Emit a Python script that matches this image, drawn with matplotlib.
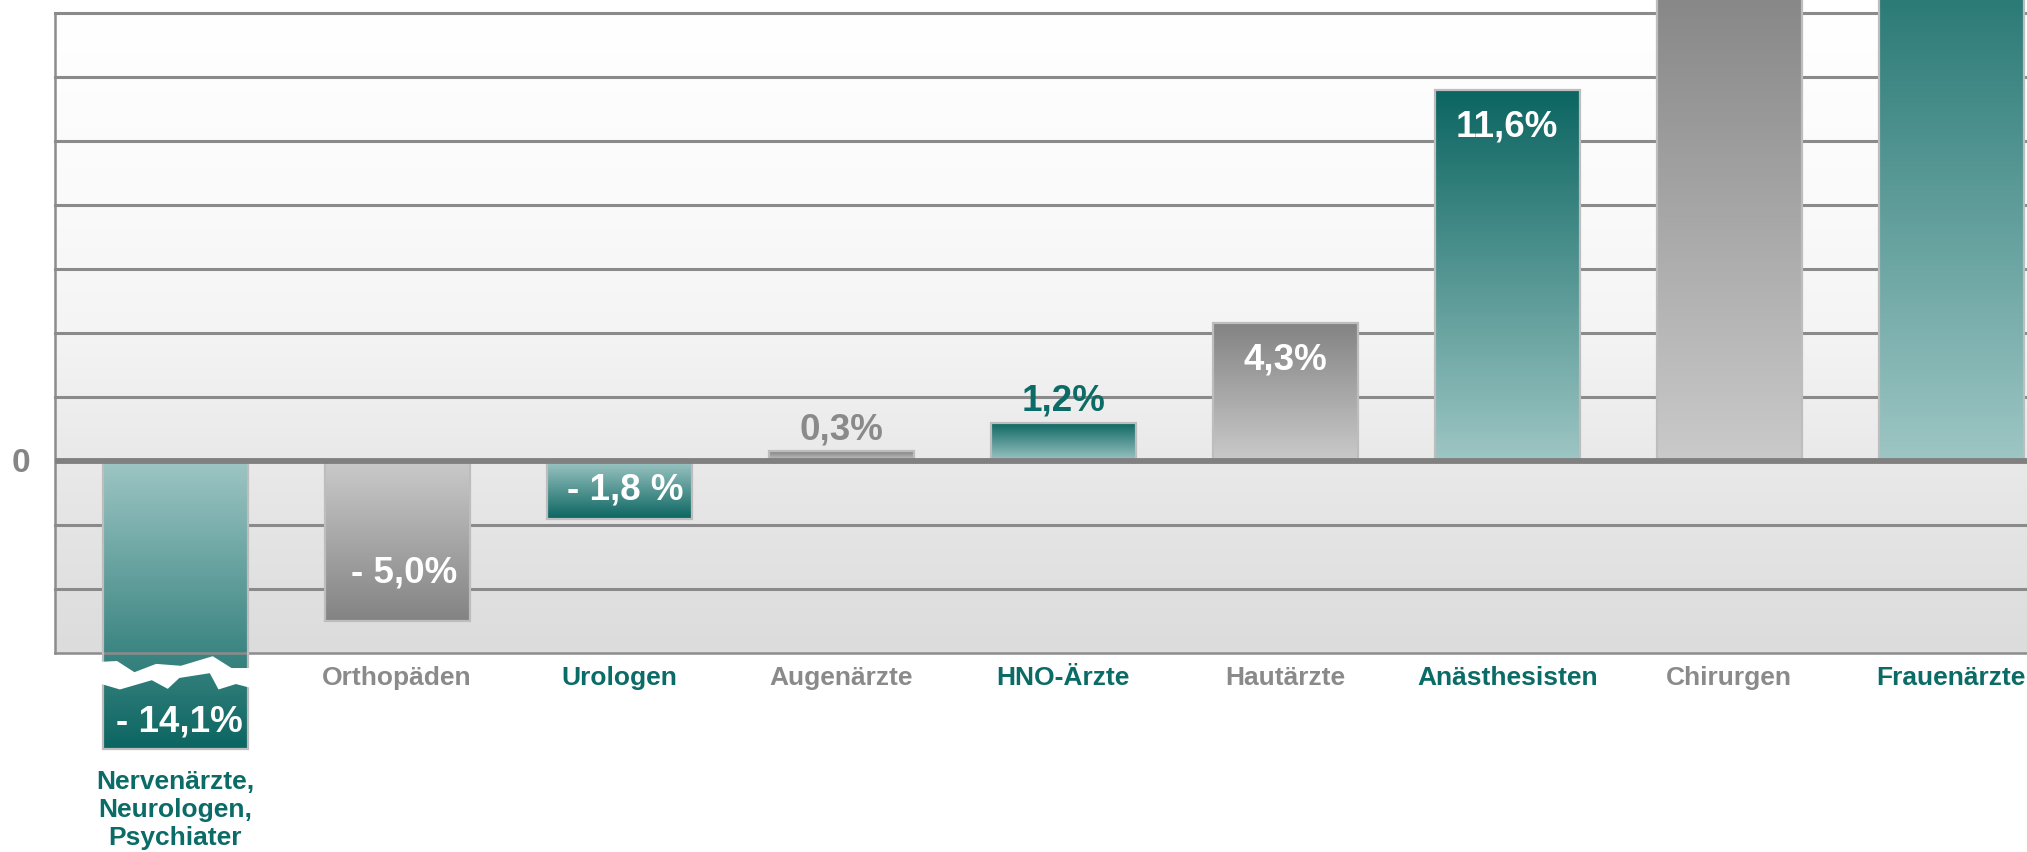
import numpy as np
import matplotlib.pyplot as plt
from matplotlib.colors import LinearSegmentedColormap
from matplotlib.patches import Rectangle, Polygon

plt.rcParams["font.family"] = ["Liberation Sans", "DejaVu Sans"]

# change in percent per specialty
categories = ["Nervenärzte,\nNeurologen,\nPsychiater", "Orthopäden", "Urologen",
              "Augenärzte", "HNO-Ärzte", "Hautärzte", "Anästhesisten",
              "Chirurgen", "Frauenärzte"]
values = [-14.1, -5.0, -1.8, 0.3, 1.2, 4.3, 11.6, 15.5, 18.6]  # last two run off the top
value_labels = ["- 14,1%", "- 5,0%", "- 1,8 %", "0,3%", "1,2%", "4,3%", "11,6%", "", ""]

TEAL_DARK, TEAL_LIGHT, TEAL_TEXT = "#0b6561", "#9dc6c4", "#0b6b66"
GRAY_DARK, GRAY_LIGHT, GRAY_TEXT = "#838383", "#cacaca", "#8a8a8a"
teal_cmap = LinearSegmentedColormap.from_list("teal", [TEAL_LIGHT, TEAL_DARK])
gray_cmap = LinearSegmentedColormap.from_list("gray", [GRAY_LIGHT, GRAY_DARK])

BAR_WIDTH = 0.653
BREAK_DEPTH = -9.0  # the -14,1 bar is drawn cut off at this depth
# jagged break of the cut bar: (fraction of bar width, y)
break_top = [(-0.03, -6.28), (0.1, -6.25), (0.22, -6.6), (0.37, -6.34), (0.54, -6.4),
             (0.76, -6.1), (0.89, -6.47), (1.03, -6.47)]
break_bottom = [(1.03, -7.1), (0.92, -6.97), (0.8, -7.14), (0.74, -6.63), (0.53, -6.78),
                (0.45, -7.12), (0.34, -6.85), (0.12, -7.14), (-0.03, -6.94)]

fig = plt.figure(figsize=(20.27, 8.52), dpi=100)
ax = fig.add_axes([55 / 2027, (852 - 653) / 852, (2140 - 55) / 2027, 640 / 852])
xmin, xmax, ymin, ymax = -0.5405, 8.85, -6, 14

# background gradient, white at top to light gray at bottom
ys = np.linspace(ymin, ymax, 300)
shade = np.interp(ys, [-6, 0, 4, 8, 14], [220, 233, 244, 250, 255]) / 255
bg = np.repeat(shade.reshape(-1, 1, 1), 3, axis=2).repeat(2, axis=1)
ax.imshow(bg, extent=[xmin, xmax, ymin, ymax], origin="lower", aspect="auto", zorder=0)

for y in range(-4, 15, 2):
    if y != 0:
        ax.axhline(y, color="#8a8a8a", lw=2.2, zorder=1, clip_on=False)

grad = np.linspace(0, 1, 256).reshape(-1, 1)
for i, (v, lab) in enumerate(zip(values, value_labels)):
    teal = i % 2 == 0
    cmap = teal_cmap if teal else gray_cmap
    shown = max(v, BREAK_DEPTH)
    x0 = i - BAR_WIDTH / 2
    if shown >= 0:
        img, lo, hi = grad, 0, shown
    else:
        img, lo, hi = grad[::-1], shown, 0
    im = ax.imshow(img, cmap=cmap, vmin=0, vmax=1, extent=[x0, x0 + BAR_WIDTH, lo, hi],
                   origin="lower", aspect="auto", zorder=2)
    im.set_clip_on(False)
    ax.add_patch(Rectangle((x0, lo), BAR_WIDTH, hi - lo, fill=False, ec="#bdbdbd",
                           lw=1.6, zorder=3, clip_on=False))

    if v < BREAK_DEPTH:
        pts = [(x0 + f * BAR_WIDTH, y) for f, y in break_top + break_bottom]
        ax.add_patch(Polygon(pts, closed=True, fc="white", ec="none", zorder=4, clip_on=False))
        ax.text(i + 0.02, (break_bottom[0][1] + BREAK_DEPTH) / 2 - 0.12, lab, color="white",
                fontsize=26.5, fontweight="bold", ha="center", va="center", zorder=6,
                clip_on=False)
        ax.text(i, -10.9, categories[i], color=TEAL_TEXT, fontsize=19, fontweight="bold",
                ha="center", va="center", linespacing=1.22, clip_on=False)
        continue

    if not lab:
        pass
    elif v < 0:
        ax.text(i + 0.03, min(v / 2, v + 1.5), lab, color="white", fontsize=26.5,
                fontweight="bold", ha="center", va="center", zorder=6)
    elif v < 2:
        ax.text(i, v + 0.37, lab, color=TEAL_TEXT if teal else GRAY_TEXT, fontsize=26.5,
                fontweight="bold", ha="center", va="baseline", zorder=6)
    else:
        ax.text(i, v - 1.15, lab, color="white", fontsize=26.5, fontweight="bold",
                ha="center", va="center", zorder=6)

    ax.text(i, -6.78, categories[i], color=TEAL_TEXT if teal else GRAY_TEXT, fontsize=19,
            fontweight="bold", ha="center", va="center", clip_on=False)

ax.axhline(0, color="#808080", lw=4.2, zorder=5)

ax.set_xlim(xmin, xmax)
ax.set_ylim(ymin, ymax)
ax.set_xticks([])
ax.set_yticks([])
for side in ["top", "right"]:
    ax.spines[side].set_visible(False)
for side in ["left", "bottom"]:
    ax.spines[side].set_color("#8c8c8c")
    ax.spines[side].set_linewidth(1.8)

fig.text(21 / 2027, 1 - 463 / 852, "0", color="#858585", fontsize=24, fontweight="bold",
         ha="center", va="center")

plt.savefig("out.png", dpi=100)
plt.close()
